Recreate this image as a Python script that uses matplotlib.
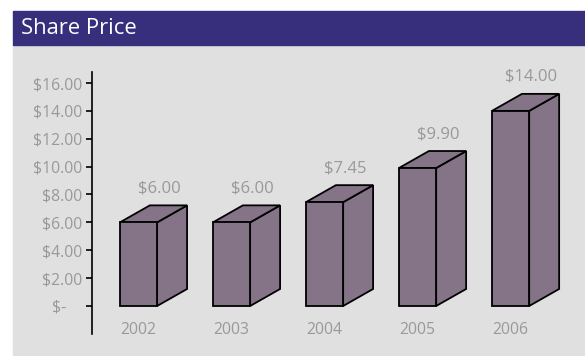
import matplotlib
matplotlib.use("Agg")
import matplotlib.pyplot as plt
from matplotlib.patches import Rectangle, Polygon

# Share price per year
years = ["2002", "2003", "2004", "2005", "2006"]
prices = [6.00, 6.00, 7.45, 9.90, 14.00]
price_labels = ["$6.00", "$6.00", "$7.45", "$9.90", "$14.00"]
y_ticks = [0, 2, 4, 6, 8, 10, 12, 14, 16]
y_tick_labels = ["$-    ", "$2.00", "$4.00", "$6.00", "$8.00", "$10.00",
                 "$12.00", "$14.00", "$16.00"]

HEADER = "#372f7b"
PANEL = "#e0e0e0"
BAR = "#857488"
TEXT = "#999999"
FONT = "Open Sans"

W, H = 585, 356
fig = plt.figure(figsize=(W / 100, H / 100), dpi=100)
fig.patch.set_facecolor("white")

# grey panel and title band (behind the axes)
fig.patches.append(Rectangle((13 / W, 0), 1 - 13 / W, 311 / H,
                             transform=fig.transFigure, color=PANEL, zorder=-2))
fig.patches.append(Rectangle((13 / W, 311 / H), 1 - 13 / W, 34 / H,
                             transform=fig.transFigure, color=HEADER, zorder=-2))
fig.text(21 / W, 327 / H, "Share Price", color="white", fontsize=15.8,
         family=FONT, va="center", ha="left")

ax = fig.add_axes([92 / W, 22 / H, (W - 92) / W, 262 / H])
ax.set_facecolor("none")
ax.set_xlim(-0.5, 4.8)
ax.set_ylim(-2.01, 16.79)

# depth of the 3d boxes in data units
bw = 0.4
dx = 0.322
dy = 1.22

for i, v in enumerate(prices):
    x0 = i - bw / 2
    x1 = i + bw / 2
    front = [(x0, 0), (x1, 0), (x1, v), (x0, v)]
    side = [(x1, 0), (x1 + dx, dy), (x1 + dx, v + dy), (x1, v)]
    top = [(x0, v), (x1, v), (x1 + dx, v + dy), (x0 + dx, v + dy)]
    for pts in (side, top, front):
        ax.add_patch(Polygon(pts, closed=True, facecolor=BAR,
                             edgecolor="black", linewidth=1.3,
                             joinstyle="miter", zorder=3))
    ax.text(i + 0.22, v + 2.44, price_labels[i], color=TEXT, fontsize=12,
            family=FONT, ha="center", va="center")
    ax.text(i, -1.72, years[i], color=TEXT, fontsize=11.3, family=FONT,
            ha="center", va="center")

for side_name in ["top", "right", "bottom"]:
    ax.spines[side_name].set_visible(False)
ax.spines["left"].set_linewidth(1.2)
ax.spines["left"].set_color("black")

ax.set_xticks([])
ax.set_yticks(y_ticks)
ax.set_yticklabels(y_tick_labels, family=FONT, fontsize=11.3, color=TEXT)
ax.tick_params(axis="y", direction="out", length=4, width=1.2, pad=3,
               color="black")

fig.savefig("out.png", dpi=100)
